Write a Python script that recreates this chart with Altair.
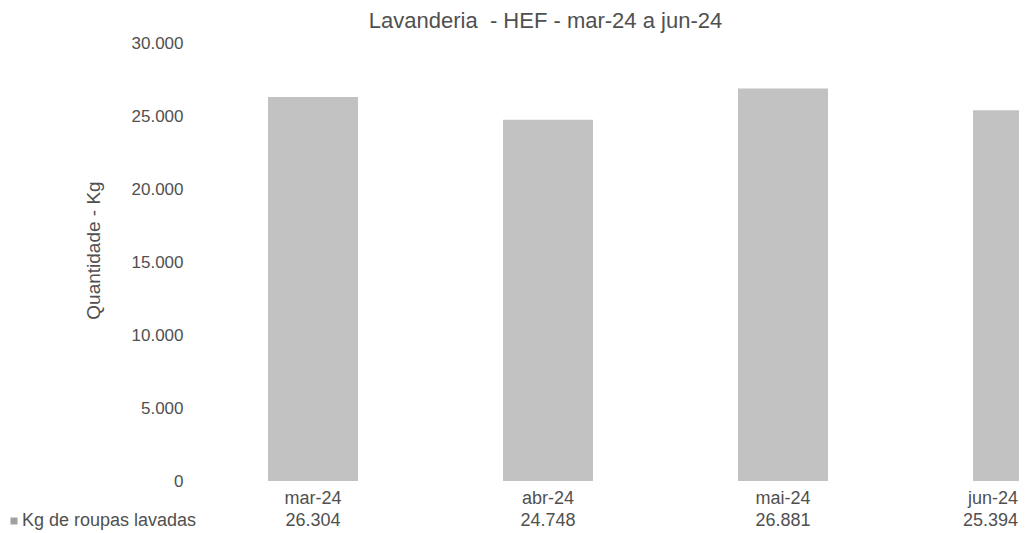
import altair as alt
import pandas as pd

# ---- data ----
meses = ["mar-24", "abr-24", "mai-24", "jun-24"]
kg = [26304, 24748, 26881, 25394]
serie = ["Kg de roupas lavadas"]
titulo = "Lavanderia \u00a0- HEF - mar-24 a jun-24"
y_titulo = "Quantidade - Kg"
y_ticks = [0, 5000, 10000, 15000, 20000, 25000, 30000]

df = pd.DataFrame({"mes": meses, "kg": kg})
df_leg = pd.DataFrame({"serie": serie})

FONT = "Liberation Sans"
TXT = "#505050"
BAR = "#c2c2c2"

W, H = 819, 438

xscale = alt.Scale(domain=meses, range=[0, 931], paddingInner=0.617, paddingOuter=0.2894)
yscale = alt.Scale(domain=[0, 30000])

base = alt.Chart(df)

bars = base.mark_bar(color=BAR, clip=True).encode(
    x=alt.X("mes:N", sort=meses, scale=xscale,
            axis=alt.Axis(title=None, labelAngle=0, domain=False, ticks=False,
                          labelPadding=8, labelFontSize=18, labelFont=FONT,
                          labelColor=TXT,
                          labelAlign=alt.condition("datum.value == 'jun-24'",
                                                   alt.value("right"), alt.value("center")))),
    y=alt.Y("kg:Q", scale=yscale,
            axis=alt.Axis(values=y_ticks, grid=False, domain=False, ticks=False,
                          labelExpr="replace(format(datum.value, ','), ',', '.')",
                          labelPadding=17, labelFontSize=17, labelFont=FONT, labelColor=TXT,
                          title=y_titulo, titleFontSize=19, titleFont=FONT,
                          titleFontWeight="normal", titleColor=TXT,
                          titleAngle=270, titleAlign="center", titleBaseline="middle",
                          titleX=-107, titleY=207)),
)

valores = base.transform_calculate(
    rotulo="replace(format(datum.kg, ','), ',', '.')"
).mark_text(fontSize=18, font=FONT, color=TXT, baseline="middle",
            align={"expr": "datum.mes == 'jun-24' ? 'right' : 'center'"}).encode(
    x=alt.X("mes:N", sort=meses, scale=xscale),
    y=alt.value(H + 40),
    text="rotulo:N",
)

leg_sq = alt.Chart(df_leg).mark_square(size=49, color="#a0a0a0", opacity=1).encode(
    x=alt.value(-186), y=alt.value(H + 40)
)
leg_txt = alt.Chart(df_leg).mark_text(fontSize=18, font=FONT, color=TXT,
                                     align="left", baseline="middle").encode(
    x=alt.value(-178), y=alt.value(H + 40), text="serie:N"
)

chart = alt.layer(bars, valores, leg_sq, leg_txt).properties(
    width=W, height=H,
    background="white",
    title=alt.TitleParams(text=titulo, fontSize=22, font=FONT, fontWeight="normal",
                          color=TXT, anchor="middle", frame="group", dx=-64, dy=22,
                          baseline="alphabetic", offset=6),
    autosize=alt.AutoSizeParams(type="none"),
    padding={"left": 192, "top": 35, "right": 0, "bottom": 52},
).configure_view(stroke=None)

chart.save("out.html", embed_options={"renderer": "svg", "actions": False})
